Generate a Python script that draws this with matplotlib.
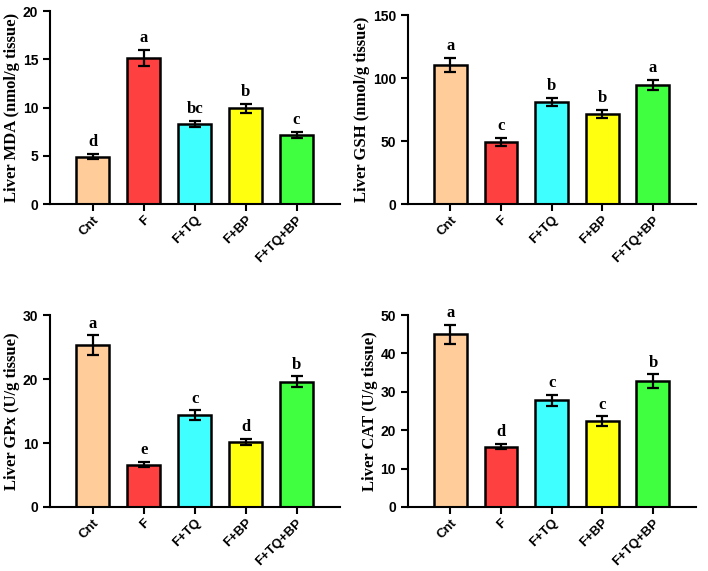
import numpy as np
import matplotlib
matplotlib.use('Agg')
import matplotlib.pyplot as plt

# ================================ 数据 ================================
groups = ['Cnt', 'F', 'F+TQ', 'F+BP', 'F+TQ+BP']
colors = ['#FFCC9A', '#FF4040', '#40FFFF', '#FFFF10', '#40FF40']

mda_mean = [4.9, 15.1, 8.3, 9.9, 7.15]
mda_err = [0.28, 0.83, 0.33, 0.43, 0.33]
mda_sig = ['d', 'a', 'bc', 'b', 'c']

gsh_mean = [110.3, 49.3, 81.1, 71.6, 94.6]
gsh_err = [5.7, 3.2, 3.2, 3.2, 4.0]
gsh_sig = ['a', 'c', 'b', 'b', 'a']

gpx_mean = [25.3, 6.6, 14.35, 10.2, 19.6]
gpx_err = [1.5, 0.4, 0.75, 0.5, 0.8]
gpx_sig = ['a', 'e', 'c', 'd', 'b']

cat_mean = [45.0, 15.7, 27.8, 22.4, 32.8]
cat_err = [2.5, 0.7, 1.4, 1.2, 1.75]
cat_sig = ['a', 'd', 'c', 'c', 'b']

serif = ['Liberation Serif', 'DejaVu Serif']
sans = ['Liberation Sans', 'DejaVu Sans']


def plot_panel(ax, mean, err, sig, ylabel, ymax, step):
    x = np.arange(len(groups))
    ax.bar(x, mean, width=0.65, color=colors, edgecolor='black', linewidth=1.8, zorder=2)
    ax.errorbar(x, mean, yerr=err, fmt='none', ecolor='black', elinewidth=1.6,
                capsize=4.5, capthick=1.6, zorder=3)
    # 显著性字母
    off = ymax * 0.02
    for xi, m, e, s in zip(x, mean, err, sig):
        ax.text(xi, m + e + off, s, ha='center', va='bottom', fontsize=12,
                fontweight='bold', family=serif)

    ax.set_xlim(-0.84, 4.85)
    ax.set_ylim(0, ymax)
    ax.set_yticks(np.arange(0, ymax + 1e-9, step))
    ax.set_xticks(x)
    ax.set_xticklabels(groups, rotation=45, ha='right', rotation_mode='anchor',
                       fontsize=9.5, fontweight='bold', family=sans)
    for lab in ax.get_yticklabels():
        lab.set_fontsize(10)
        lab.set_fontweight('bold')
        lab.set_family(sans)
    ax.set_ylabel(ylabel, fontsize=12, fontweight='bold', family=serif, labelpad=2)

    ax.spines['top'].set_visible(False)
    ax.spines['right'].set_visible(False)
    ax.spines['left'].set_linewidth(1.5)
    ax.spines['bottom'].set_linewidth(1.5)
    ax.tick_params(axis='both', direction='out', length=5, width=1.5)
    ax.tick_params(axis='x', pad=2)


fig = plt.figure(figsize=(7.08, 5.71), dpi=100)
ax1 = fig.add_axes([0.0706, 0.6427, 0.4094, 0.338])
ax2 = fig.add_axes([0.576, 0.6427, 0.407, 0.331])
ax3 = fig.add_axes([0.0706, 0.1121, 0.4094, 0.3362])
ax4 = fig.add_axes([0.576, 0.1121, 0.407, 0.3362])

plot_panel(ax1, mda_mean, mda_err, mda_sig, 'Liver MDA (nmol/g tissue)', 20, 5)
plot_panel(ax2, gsh_mean, gsh_err, gsh_sig, 'Liver GSH (nmol/g tissue)', 150, 50)
plot_panel(ax3, gpx_mean, gpx_err, gpx_sig, 'Liver GPx (U/g tissue)', 30, 10)
plot_panel(ax4, cat_mean, cat_err, cat_sig, 'Liver CAT (U/g tissue)', 50, 10)

fig.savefig('out.png', dpi=100)
